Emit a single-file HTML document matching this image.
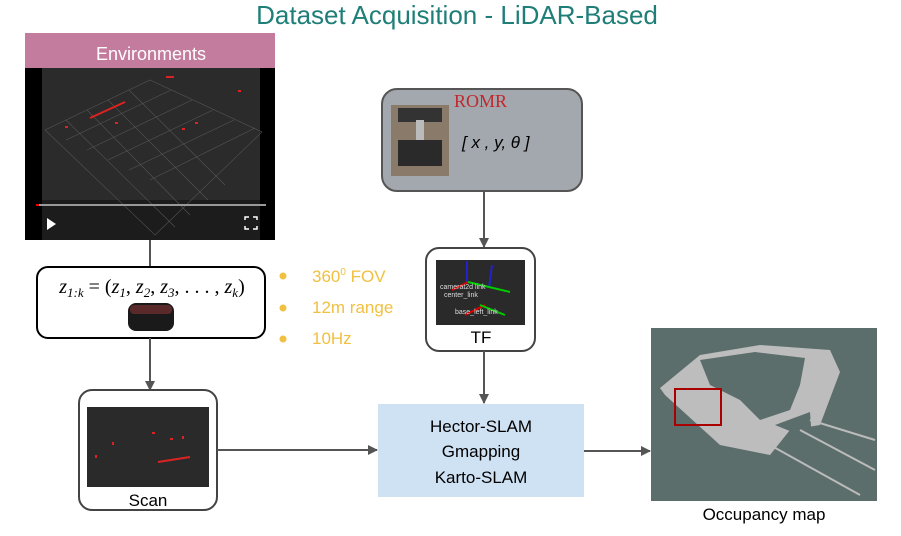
<!DOCTYPE html>
<html><head><meta charset="utf-8"><style>
body{margin:0;background:#fff;width:901px;height:531px;overflow:hidden}
text{font-family:"Liberation Sans",sans-serif}
text.serif{font-family:"Liberation Serif",serif}
</style></head><body>
<svg width="901" height="531" viewBox="0 0 901 531" xmlns="http://www.w3.org/2000/svg">
<defs>
<marker id="a" markerWidth="10" markerHeight="10" refX="9" refY="5" orient="auto" markerUnits="userSpaceOnUse">
<path d="M0,0 L10,5 L0,10 z" fill="#555"/></marker>
</defs>
<text x="457" y="24" text-anchor="middle" font-size="26" fill="#1f7f78">Dataset Acquisition - LiDAR-Based</text>

<!-- Environments -->
<rect x="25" y="33" width="250" height="35" fill="#c47c9e"/>
<text x="151" y="60" text-anchor="middle" font-size="18" fill="#fff">Environments</text>
<rect x="25" y="68" width="250" height="172" fill="#000"/>
<rect x="42" y="68" width="218" height="172" fill="#2b2b2b"/>
<rect x="42" y="200" width="218" height="40" fill="#1c1c1c"/>
<g stroke="#555" stroke-width="0.6" fill="none">
<path d="M45,130 L150,80 L262,132 L155,235 Z"/>
<path d="M66,140 L171,90 M87,150 L192,100 M108,160 L213,110 M129,170 L234,120 M150,180 L255,128"/>
<path d="M66,120 L175,227 M87,110 L190,215 M108,100 L208,200 M129,90 L225,185"/>
</g>
<path d="M90,118 L125,102" stroke="#d22" stroke-width="2"/>
<g fill="#d22"><rect x="65" y="126" width="3" height="2"/><rect x="115" y="122" width="3" height="2"/><rect x="182" y="128" width="3" height="2"/><rect x="195" y="122" width="3" height="2"/><rect x="166" y="76" width="8" height="2"/><rect x="238" y="90" width="3" height="2"/></g>
<rect x="36" y="204" width="230" height="2" fill="#999"/>
<rect x="36" y="204" width="3" height="2" fill="#e00"/>
<path d="M47,218 L56,224 L47,230 Z" fill="#fff"/>
<path d="M245,220 v-3 h4 M253,217 h4 v3 M257,226 v3 h-4 M249,229 h-4 v-3" stroke="#fff" stroke-width="1.5" fill="none"/>
<line x1="150" y1="240" x2="150" y2="267" stroke="#555" stroke-width="2"/>

<!-- equation box -->
<rect x="37" y="267" width="228" height="71" rx="11" fill="#fff" stroke="#000" stroke-width="2"/>
<text class="serif" x="152" y="293" text-anchor="middle" font-size="20" font-style="italic">z<tspan font-size="13" dy="4">1:k</tspan><tspan dy="-4" font-style="normal"> = (</tspan>z<tspan font-size="13" dy="4">1</tspan><tspan dy="-4" font-style="normal">, </tspan>z<tspan font-size="13" dy="4">2</tspan><tspan dy="-4" font-style="normal">, </tspan>z<tspan font-size="13" dy="4">3</tspan><tspan dy="-4" font-style="normal">, . . . , </tspan>z<tspan font-size="13" dy="4">k</tspan><tspan dy="-4" font-style="normal">)</tspan></text>
<rect x="128" y="303" width="46" height="28" rx="8" fill="#1a1a1a"/>
<rect x="130" y="305" width="42" height="9" rx="4" fill="#5a2a2a"/>
<line x1="150" y1="338" x2="150" y2="390" stroke="#555" stroke-width="2" marker-end="url(#a)"/>

<!-- bullets -->
<g fill="#f0c040"><circle cx="283" cy="276" r="3.5"/><circle cx="283" cy="308" r="3.5"/><circle cx="283" cy="339" r="3.5"/></g>
<g fill="#f0c040" font-size="17"><text x="312" y="282">360<tspan font-size="10" dy="-7">0</tspan><tspan dy="7"> FOV</tspan></text><text x="312" y="313">12m range</text><text x="312" y="344">10Hz</text></g>

<!-- scan -->
<rect x="79" y="390" width="138" height="120" rx="13" fill="#fff" stroke="#444" stroke-width="2"/>
<rect x="87" y="407" width="122" height="80" fill="#2a2a2a"/>
<path d="M158,462 L190,457" stroke="#d22" stroke-width="2"/>
<g fill="#d22"><rect x="95" y="455" width="2" height="3"/><rect x="112" y="442" width="2" height="3"/><rect x="152" y="432" width="3" height="2"/><rect x="170" y="438" width="3" height="2"/><rect x="182" y="436" width="2" height="3"/></g>
<text x="148" y="506" text-anchor="middle" font-size="17">Scan</text>
<line x1="217" y1="450" x2="377" y2="450" stroke="#555" stroke-width="2" marker-end="url(#a)"/>

<!-- SLAM -->
<rect x="378" y="404" width="206" height="93" fill="#cfe2f3"/>
<g font-size="17" text-anchor="middle"><text x="481" y="432">Hector-SLAM</text><text x="481" y="457">Gmapping</text><text x="481" y="483">Karto-SLAM</text></g>
<line x1="584" y1="451" x2="650" y2="451" stroke="#555" stroke-width="2" marker-end="url(#a)"/>

<!-- map -->
<rect x="651" y="328" width="226" height="173" fill="#5b6e6b"/>
<path d="M660,388 L700,355 L760,345 L830,350 L840,372 L820,425 L790,430 L770,455 L720,445 L665,395 Z" fill="#bdbdbd"/>
<path d="M700,360 L755,352 L805,358 L800,385 L790,410 L760,420 L740,400 L710,385 Z" fill="#5b6e6b"/>
<path d="M775,425 L810,412 L812,440 Z" fill="#5b6e6b"/>
<g stroke="#bbb" stroke-width="2"><line x1="770" y1="445" x2="860" y2="495"/><line x1="800" y1="430" x2="875" y2="470"/><line x1="810" y1="420" x2="875" y2="440"/></g>
<rect x="675" y="389" width="46" height="36" fill="none" stroke="#a00" stroke-width="2"/>
<text x="764" y="520" text-anchor="middle" font-size="17">Occupancy map</text>

<!-- ROMR -->
<rect x="382" y="89" width="200" height="102" rx="15" fill="#a2a8ad" stroke="#555" stroke-width="2"/>
<rect x="391" y="105" width="58" height="71" fill="#8a7a6a"/>
<rect x="398" y="108" width="44" height="14" fill="#333"/>
<rect x="416" y="120" width="8" height="30" fill="#bbb"/>
<rect x="398" y="140" width="44" height="26" fill="#2a2a2a"/>
<text class="serif" x="454" y="107" font-size="18" fill="#c0282c">ROMR</text>
<text x="462" y="148" font-size="17" font-style="italic">[ x , y, θ ]</text>
<line x1="484" y1="191" x2="484" y2="247" stroke="#555" stroke-width="2" marker-end="url(#a)"/>

<!-- TF -->
<rect x="426" y="248" width="109" height="103" rx="13" fill="#fff" stroke="#444" stroke-width="2"/>
<rect x="436" y="260" width="89" height="65" fill="#2a2a2a"/>
<g stroke-width="2"><line x1="467" y1="261" x2="467" y2="282" stroke="#22c"/><line x1="492" y1="265" x2="489" y2="288" stroke="#22c"/><line x1="452" y1="290" x2="468" y2="282" stroke="#d00"/><line x1="468" y1="282" x2="510" y2="292" stroke="#0c0"/><line x1="465" y1="315" x2="485" y2="305" stroke="#d00"/><line x1="480" y1="305" x2="505" y2="315" stroke="#0c0"/></g>
<g fill="#ddd" font-size="7"><text x="440" y="289">camerat2d link</text><text x="444" y="297">center_link</text><text x="455" y="314">base_left_link</text></g>
<text x="481" y="343" text-anchor="middle" font-size="17">TF</text>
<line x1="484" y1="351" x2="484" y2="403" stroke="#555" stroke-width="2" marker-end="url(#a)"/>
</svg>
</body></html>
